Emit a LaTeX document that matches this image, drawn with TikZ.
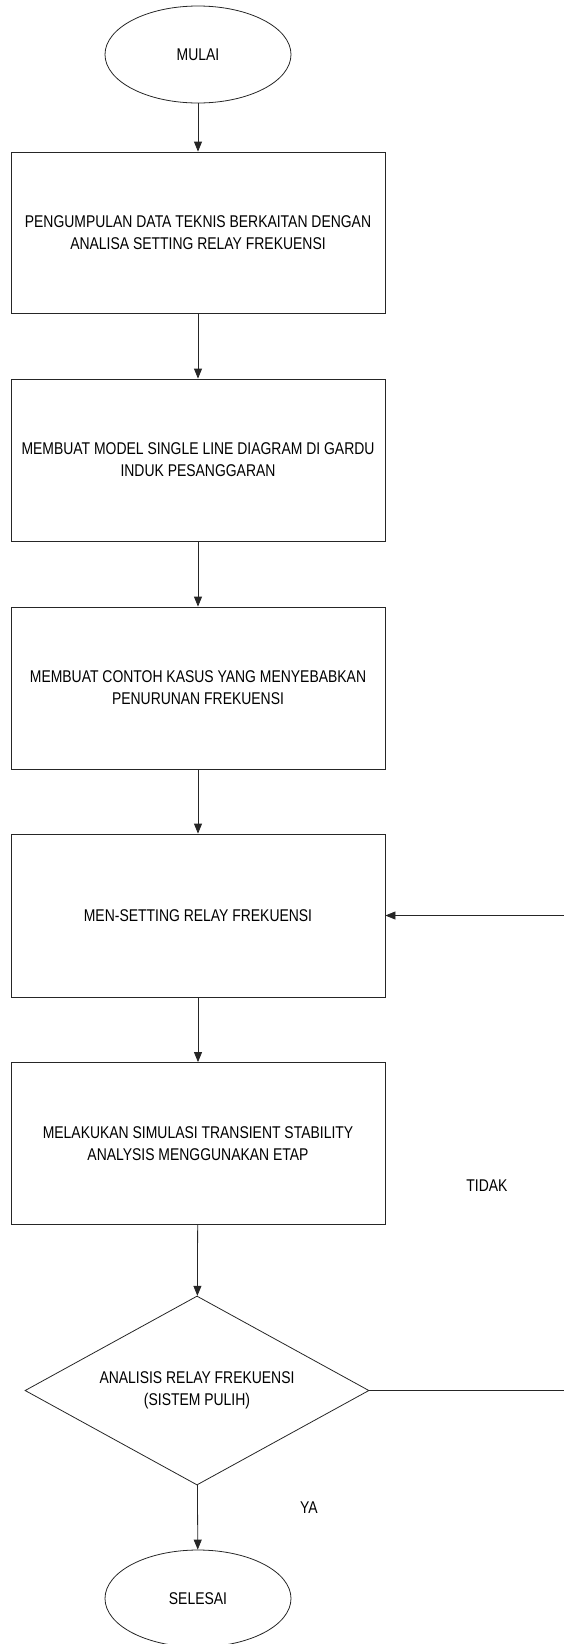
\documentclass[tikz,border=0pt]{standalone}
\usepackage{fontspec}
\setmainfont{Liberation Sans}[FakeStretch=0.82]
\usetikzlibrary{shapes.geometric,arrows.meta}
\begin{document}
\begin{tikzpicture}[x=1pt,y=-1pt,
  every node/.style={font=\fontsize{17}{22}\selectfont},
  procbox/.style={draw=black!85,line width=0.8pt,rectangle,minimum width=374pt,align=center,inner sep=0pt},
  termbox/.style={draw=black!85,line width=0.8pt,ellipse,minimum width=186pt,minimum height=97pt,inner sep=0pt},
  decbox/.style={draw=black!85,line width=0.8pt,diamond,aspect=1.82,minimum width=344pt,minimum height=189pt,align=center,inner sep=0pt},
  flow/.style={draw=black!85,line width=0.8pt,-{Triangle[length=10pt,width=8pt]}},
  lbl/.style={inner sep=0pt}]
\useasboundingbox (0,0) rectangle (564,1644);
\node[termbox] (mulai) at (198,54.5) {MULAI};
\node[procbox,minimum height=161pt] (b1) at (198,232.5) {PENGUMPULAN DATA TEKNIS BERKAITAN DENGAN\\ANALISA SETTING RELAY FREKUENSI};
\node[procbox,minimum height=162pt] (b2) at (198,460) {MEMBUAT MODEL SINGLE LINE DIAGRAM DI GARDU\\INDUK PESANGGARAN};
\node[procbox,minimum height=162pt] (b3) at (198,688) {MEMBUAT CONTOH KASUS YANG MENYEBABKAN\\PENURUNAN FREKUENSI};
\node[procbox,minimum height=163pt] (b4) at (198,915.5) {MEN-SETTING RELAY FREKUENSI};
\node[procbox,minimum height=162pt] (b5) at (198,1143.5) {MELAKUKAN SIMULASI TRANSIENT STABILITY\\ANALYSIS MENGGUNAKAN ETAP};
\node[decbox] (d) at (197,1390.5) {ANALISIS RELAY FREKUENSI\\(SISTEM PULIH)};
\node[termbox] (selesai) at (198,1598.5) {SELESAI};
\node[lbl] (tidak) at (487,1186) {TIDAK};
\node[lbl] (ya) at (309,1508) {YA};
\coordinate (r1) at (570,1390.5);
\coordinate (r2) at (570,915.5);
\draw[flow] (mulai) -- (b1);
\draw[flow] (b1) -- (b2);
\draw[flow] (b2) -- (b3);
\draw[flow] (b3) -- (b4);
\draw[flow] (b4) -- (b5);
\draw[flow] (b5) -- (d);
\draw[flow] (d) -- (selesai);
\draw[flow] (d.east) -- (r1) -- (r2) -- (b4.east);
\end{tikzpicture}
\end{document}
